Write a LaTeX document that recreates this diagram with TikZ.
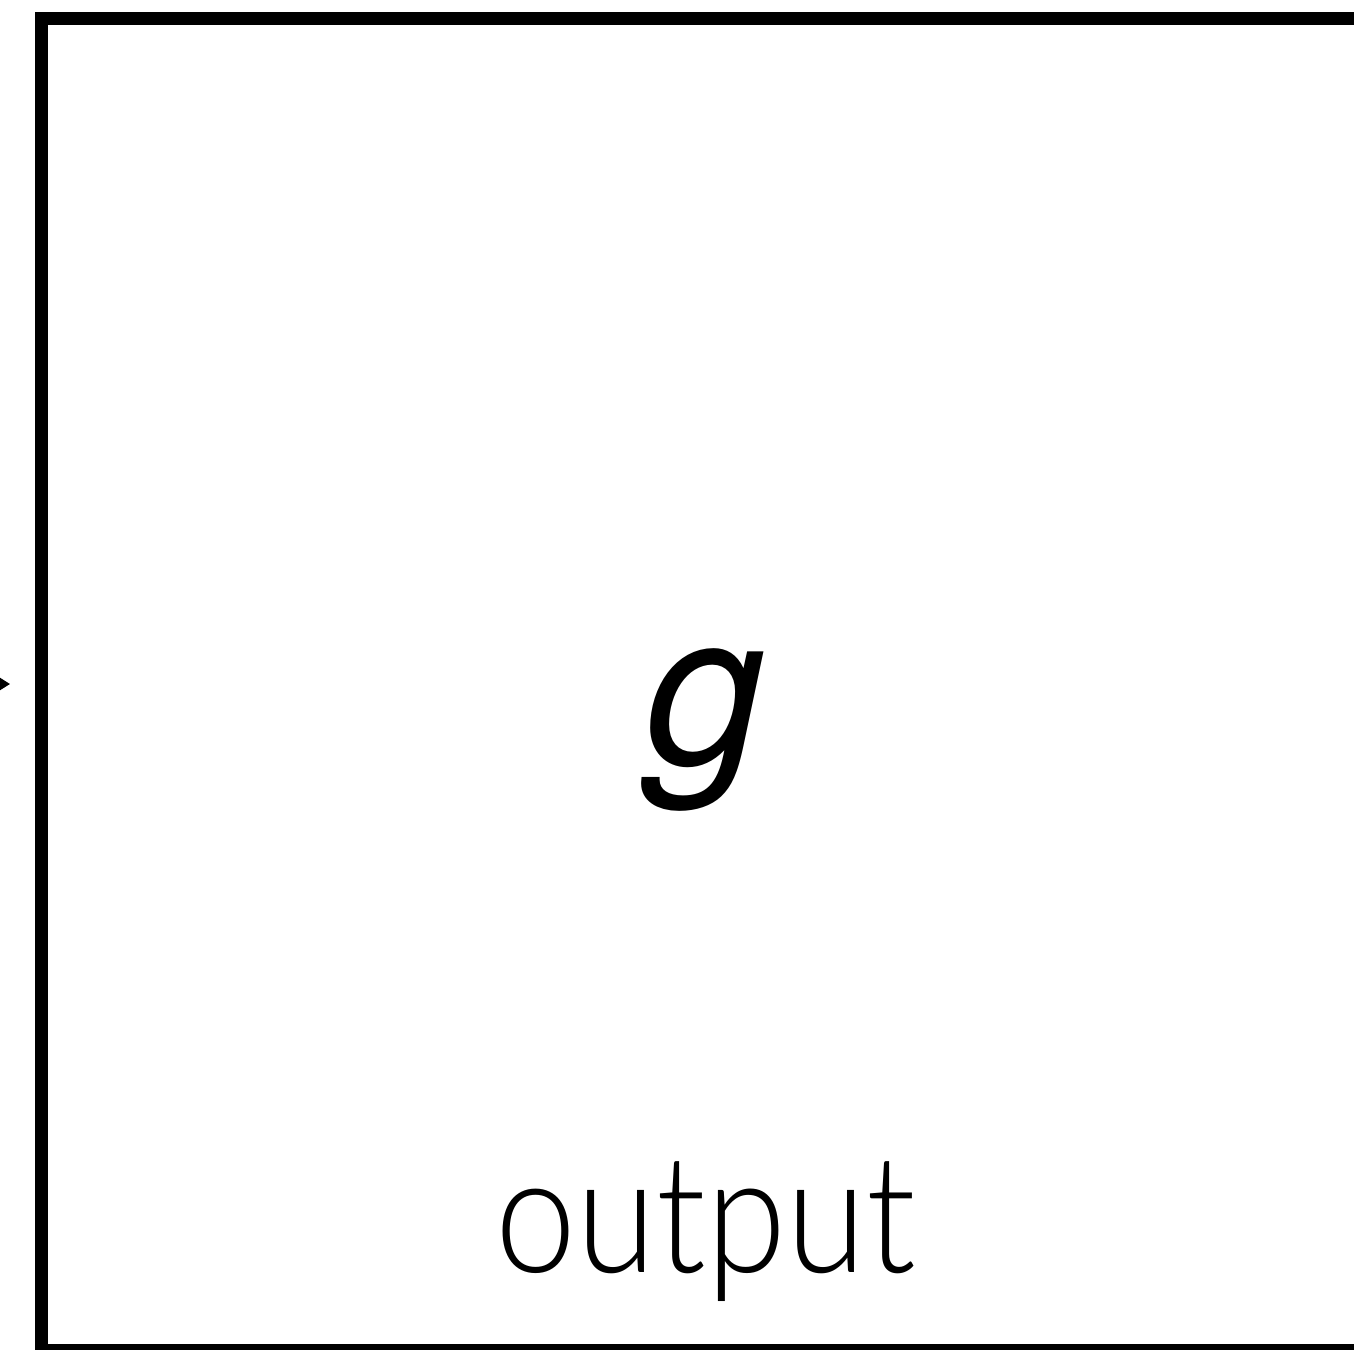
\documentclass[tikz,border=0pt]{standalone}
\usepackage{fontspec}
\setsansfont{Lato Light}
\newfontfamily\gfont{TeX Gyre Heros}
\usetikzlibrary{arrows.meta}
\begin{document}
\begin{tikzpicture}[x=1pt,y=-1pt,
  boxline/.style={line width=13pt,line join=miter},
  lbl/.style={inner sep=0pt,anchor=base}]
\useasboundingbox (0,0) rectangle (1354,1349);
\clip (0,0) rectangle (1354,1349);
\coordinate (tr) at (1380,18.5);
\coordinate (tl) at (41.5,18.5);
\coordinate (bl) at (41.5,1350.5);
\coordinate (br) at (1380,1350.5);
\draw[boxline] (tr) -- (tl) -- (bl) -- (br);
\node[lbl,font=\gfont\itshape\fontsize{215}{215}\selectfont] (g) at (705,764) {g};
\node[lbl,font=\sffamily\fontsize{165}{165}\selectfont,xscale=0.88] (out) at (706,1272) {output};
\coordinate (src) at (-60,684);
\coordinate (tip) at (10,684);
\draw[line width=2pt,-{Triangle[length=10pt,width=12pt]}] (src) -- (tip);
\end{tikzpicture}
\end{document}
